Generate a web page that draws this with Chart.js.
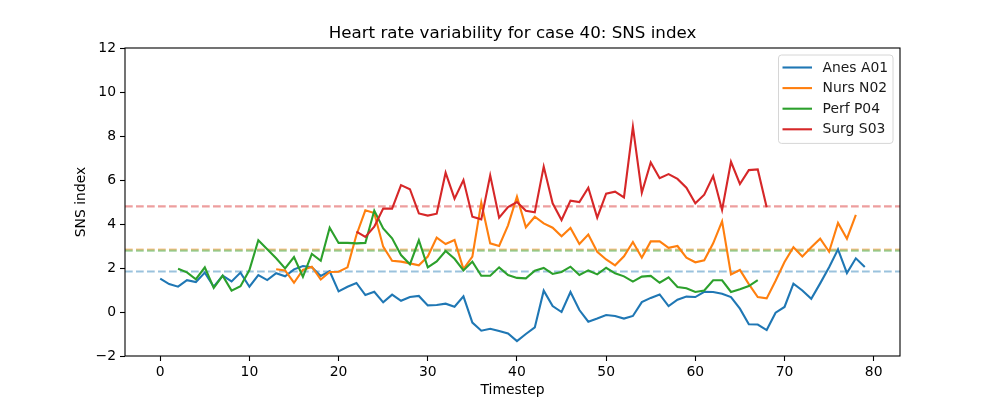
<!DOCTYPE html>
<html>
<head>
<meta charset="utf-8">
<script src="https://cdn.jsdelivr.net/npm/chart.js@4/dist/chart.umd.min.js"></script>
<style>
html,body{margin:0;padding:0;background:#fff;}
#c{display:block;}
</style>
</head>
<body>
<canvas id="c" width="1000" height="400"></canvas>
<script>
const chartTitle = 'Heart rate variability for case 40: SNS index';
const seriesLabels = ['Anes A01', 'Nurs N02', 'Perf P04', 'Surg S03'];
const seriesColors = ['#1f77b4', '#ff7f0e', '#2ca02c', '#d62728'];
const seriesStarts = [0, 13, 2, 22];

const anesValues = [1.52,1.27,1.15,1.45,1.36,1.79,1.15,1.65,1.39,1.79,1.15,1.68,1.45,1.76,1.62,1.94,2.09,2.03,1.64,1.85,
  0.94,1.15,1.32,0.77,0.92,0.44,0.79,0.51,0.68,0.73,0.30,0.32,0.38,0.24,0.71,-0.48,-0.85,-0.76,-0.86,-0.98,
  -1.32,-1.0,-0.7,0.97,0.27,0.0,0.91,0.09,-0.44,-0.3,-0.14,-0.18,-0.3,-0.18,0.45,0.64,0.8,0.27,0.56,0.7,
  0.68,0.92,0.91,0.83,0.68,0.15,-0.56,-0.57,-0.82,-0.03,0.23,1.29,0.98,0.6,1.3,2.03,2.85,1.77,2.44,2.05];

const nursValues = [1.94,1.89,1.33,1.91,2.06,1.48,1.82,1.83,2.03,3.5,4.62,4.5,2.97,2.33,2.29,2.21,2.12,2.52,3.38,3.09,
  3.27,1.95,2.52,4.97,3.12,3.0,3.94,5.24,3.85,4.33,4.03,3.83,3.44,3.82,3.09,3.52,2.74,2.39,2.12,2.53,
  3.18,2.47,3.21,3.21,2.92,3.0,2.47,2.26,2.35,3.12,4.12,1.71,1.91,1.27,0.68,0.62,1.42,2.27,2.94,2.52,
  2.94,3.33,2.74,4.05,3.33,4.42];

const perfValues = [1.97,1.8,1.49,2.03,1.1,1.65,0.97,1.17,1.91,3.26,2.85,2.44,1.98,2.5,1.6,2.64,2.33,3.83,3.14,3.14,
  3.12,3.14,4.61,3.8,3.35,2.59,2.17,3.26,2.03,2.3,2.77,2.42,1.89,2.29,1.65,1.65,2.03,1.68,1.55,1.53,
  1.88,2.0,1.73,1.82,2.06,1.68,1.89,1.71,2.01,1.76,1.62,1.38,1.61,1.64,1.33,1.58,1.14,1.08,0.91,0.98,
  1.44,1.44,0.91,1.03,1.18,1.45];

const surgValues = [3.65,3.41,3.88,4.7,4.7,5.77,5.58,4.48,4.38,4.47,6.33,5.15,6.0,4.33,4.21,6.21,4.29,4.77,5.0,4.6,
  4.53,6.61,4.94,4.18,5.06,5.0,5.65,4.29,5.38,5.47,5.21,8.42,5.42,6.8,6.08,6.27,6.05,5.65,4.94,5.33,
  6.18,4.64,6.83,5.82,6.45,6.48,4.76];

const thresholdValues = [1.84, 2.84, 2.79, 4.8];

const xMin = -3.95, xMax = 82.95;
const xTicks = [0, 10, 20, 30, 40, 50, 60, 70, 80];
const yTicks = [-2, 0, 2, 4, 6, 8, 10, 12];

const allValues = [anesValues, nursValues, perfValues, surgValues];

function hexA(hex, a) {
  const r = parseInt(hex.slice(1,3),16), g = parseInt(hex.slice(3,5),16), b = parseInt(hex.slice(5,7),16);
  return `rgba(${r},${g},${b},${a})`;
}

const datasets = [];
allValues.forEach((vals, i) => {
  datasets.push({
    label: seriesLabels[i],
    data: vals.map((v, k) => ({x: seriesStarts[i] + k, y: v})),
    borderColor: seriesColors[i],
    backgroundColor: seriesColors[i],
    borderWidth: 2.1,
    pointRadius: 0,
    tension: 0,
    fill: false,
    order: 3 - i,
    isSeries: true
  });
});
thresholdValues.forEach((t, i) => {
  datasets.push({
    label: '',
    data: [{x: xMin, y: t}, {x: xMax, y: t}],
    borderColor: hexA(seriesColors[i], 0.45),
    borderWidth: 2.1,
    borderDash: [7.7, 3.3],
    pointRadius: 0,
    tension: 0,
    fill: false,
    order: 10 + (3 - i),
    isSeries: false
  });
});

const FONT = "'DejaVu Sans', sans-serif";

const framePlugin = {
  id: 'frame',
  afterDatasetsDraw(chart) {
    const {ctx, chartArea: a} = chart;
    ctx.save();
    ctx.strokeStyle = '#000';
    ctx.lineWidth = 1.1;
    ctx.strokeRect(a.left, a.top, a.right - a.left, a.bottom - a.top);
    ctx.restore();
  }
};

const titlePlugin = {
  id: 'axesTitle',
  afterDraw(chart) {
    const {ctx, chartArea: a} = chart;
    ctx.save();
    ctx.font = `16.7px ${FONT}`;
    ctx.fillStyle = '#000';
    ctx.textAlign = 'center';
    ctx.textBaseline = 'middle';
    ctx.fillText(chartTitle, (a.left + a.right) / 2, 34);
    ctx.restore();
  }
};

const legendPlugin = {
  id: 'innerLegend',
  afterDraw(chart) {
    const {ctx, chartArea: a} = chart;
    const series = chart.data.datasets.filter(d => d.isSeries);
    const boxR = a.right - 7, boxL = boxR - 114.5;
    const boxT = a.top + 7, rowH = 20.6;
    const boxH = series.length * rowH + 6;
    ctx.save();
    ctx.beginPath();
    ctx.roundRect(boxL, boxT, boxR - boxL, boxH, 3);
    ctx.fillStyle = 'rgba(255,255,255,0.8)';
    ctx.fill();
    ctx.strokeStyle = '#d6d6d6';
    ctx.lineWidth = 1;
    ctx.stroke();
    ctx.font = `13.9px ${FONT}`;
    ctx.textBaseline = 'middle';
    ctx.textAlign = 'left';
    series.forEach((d, i) => {
      const y = boxT + 12.5 + i * rowH;
      ctx.beginPath();
      ctx.moveTo(boxL + 4, y);
      ctx.lineTo(boxL + 33.5, y);
      ctx.strokeStyle = d.borderColor;
      ctx.lineWidth = 2.1;
      ctx.stroke();
      ctx.fillStyle = '#1a1a1a';
      ctx.fillText(d.label, boxL + 44, y + 0.5);
    });
    ctx.restore();
  }
};

new Chart(document.getElementById('c'), {
  type: 'line',
  data: { datasets },
  options: {
    responsive: false,
    devicePixelRatio: 1,
    animation: false,
    events: [],
    layout: { padding: { left: 71, right: 100, top: 48, bottom: 0 } },
    plugins: {
      legend: { display: false },
      tooltip: { enabled: false },
      title: { display: false }
    },
    scales: {
      x: {
        type: 'linear',
        min: xMin,
        max: xMax,
        afterBuildTicks(scale) { scale.ticks = xTicks.map(v => ({value: v})); },
        afterFit(scale) { scale.height = 44; },
        grid: { display: true, drawOnChartArea: false, drawTicks: true, tickLength: 5, color: '#000', tickWidth: 1.1 },
        border: { display: false },
        ticks: { color: '#000', font: { family: FONT, size: 13.9 }, padding: 3, maxRotation: 0, autoSkip: false,
          callback: v => String(v).replace('-', '\u2212') },
        title: { display: true, text: 'Timestep', color: '#000', font: { family: FONT, size: 13.9 }, padding: { top: 0, bottom: 1 } }
      },
      y: {
        type: 'linear',
        min: -2,
        max: 12,
        afterBuildTicks(scale) { scale.ticks = yTicks.map(v => ({value: v})); },
        afterFit(scale) { scale.width = 54; },
        grid: { display: true, drawOnChartArea: false, drawTicks: true, tickLength: 5, color: '#000', tickWidth: 1.1 },
        border: { display: false },
        ticks: { color: '#000', font: { family: FONT, size: 13.9 }, padding: 4, autoSkip: false,
          callback: v => String(v).replace('-', '\u2212') },
        title: { display: true, text: 'SNS index', color: '#000', font: { family: FONT, size: 13.9 }, padding: { top: 2, bottom: 2 } }
      }
    }
  },
  plugins: [framePlugin, titlePlugin, legendPlugin]
});
</script>
</body>
</html>
